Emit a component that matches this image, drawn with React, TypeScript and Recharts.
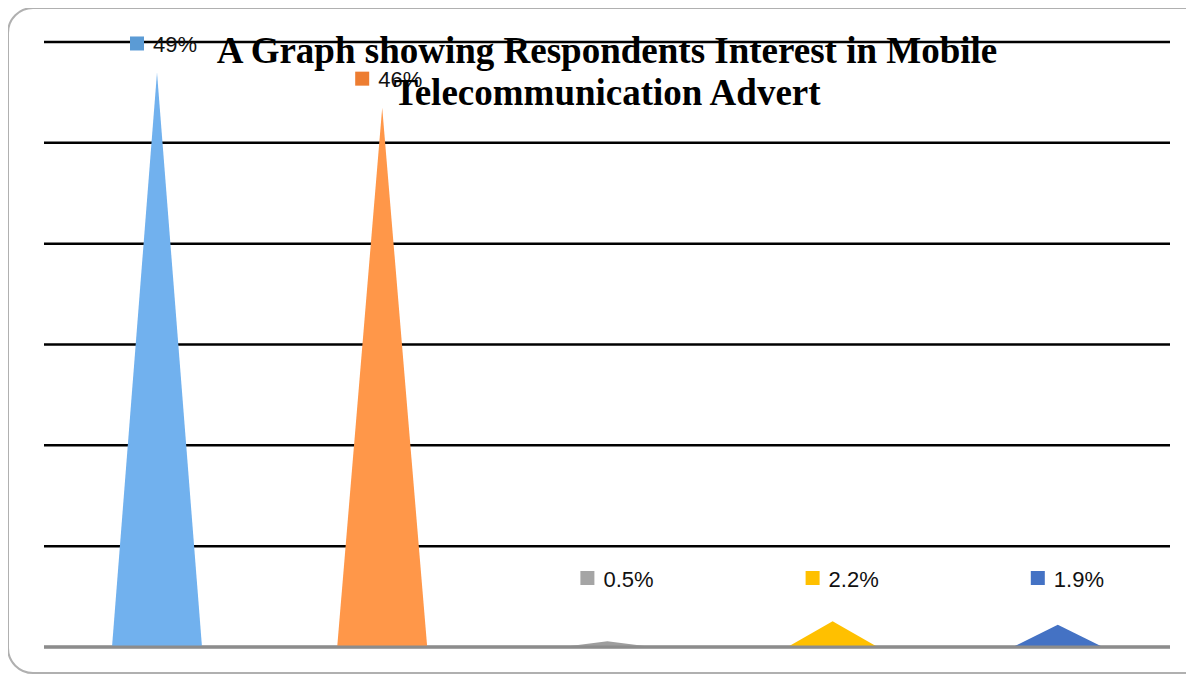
import { BarChart, Bar, XAxis, YAxis, CartesianGrid, LabelList, Cell, ReferenceLine } from 'recharts';

const categories = ['Category 1', 'Category 2', 'Category 3', 'Category 4', 'Category 5'];
const interest = [49, 46, 0.5, 2.2, 1.9];
const valueLabels = ['49%', '46%', '0.5%', '2.2%', '1.9%'];
const gridTicks = [8.6, 17.2, 25.8, 34.4, 43, 51.6];

const barColors = ['#71B1EE', '#FF9749', '#9E9E9E', '#FFC000', '#4472C4'];
const markerColors = ['#5B9BD5', '#ED7D31', '#A5A5A5', '#FFC000', '#4472C4'];

const data = categories.map((name, i) => ({ name, value: interest[i], label: valueLabels[i] }));

function Pyramid(props: any) {
  const { x, y, width, height, fill } = props;
  if (!height) return null;
  return (
    <path
      d={`M${x},${y + height} L${x + width / 2},${y} L${x + width},${y + height} Z`}
      fill={fill}
    />
  );
}

function PeakLabel(props: any) {
  const { x, y, width, value, index } = props;
  const cx = Number(x) + Number(width) / 2;
  const ly = Math.min(Number(y) - 29, 578);
  return (
    <g>
      <rect x={cx - 27} y={ly - 7} width={14} height={14} fill={markerColors[index]} />
      <text
        x={cx - 4}
        y={ly + 1}
        dominantBaseline="central"
        fontSize={22}
        fontFamily="'Liberation Sans', Arial, sans-serif"
        fill="#111"
      >
        {value}
      </text>
    </g>
  );
}

export default function App() {
  return (
    <div style={{ position: 'relative', width: 1194, height: 675, overflow: 'hidden', background: '#fff' }}>
      <div
        style={{
          position: 'absolute',
          left: -1,
          top: -1,
          width: 1210,
          height: 667,
          border: '2px solid #b0b0b0',
          borderRadius: 26,
          boxSizing: 'border-box',
        }}
      />
      <div style={{ position: 'absolute', left: -8, top: -8 }}>
        <BarChart width={1194} height={675} data={data} margin={{ top: 42, right: 24, bottom: 28, left: 44 }}>
          <CartesianGrid vertical={false} stroke="#000" strokeWidth={2.5} />
          <XAxis dataKey="name" tick={false} tickLine={false} height={0} axisLine={false} />
          <YAxis hide domain={[0, 51.6]} ticks={gridTicks} />
          <Bar dataKey="value" barSize={90} shape={<Pyramid />} isAnimationActive={false}>
            {data.map((d, i) => (
              <Cell key={d.name} fill={barColors[i]} />
            ))}
            <LabelList dataKey="label" content={<PeakLabel />} />
          </Bar>
          <ReferenceLine y={0} stroke="#8c8c8c" strokeWidth={3} />
        </BarChart>
      </div>
      <div
        style={{
          position: 'absolute',
          left: 99,
          top: 22,
          width: 1000,
          textAlign: 'center',
          fontFamily: "'Liberation Serif', 'Times New Roman', serif",
          fontWeight: 'bold',
          fontSize: 37,
          lineHeight: '42px',
          color: '#000',
        }}
      >
        A Graph showing Respondents Interest in Mobile
        <br />
        Telecommunication Advert
      </div>
    </div>
  );
}
